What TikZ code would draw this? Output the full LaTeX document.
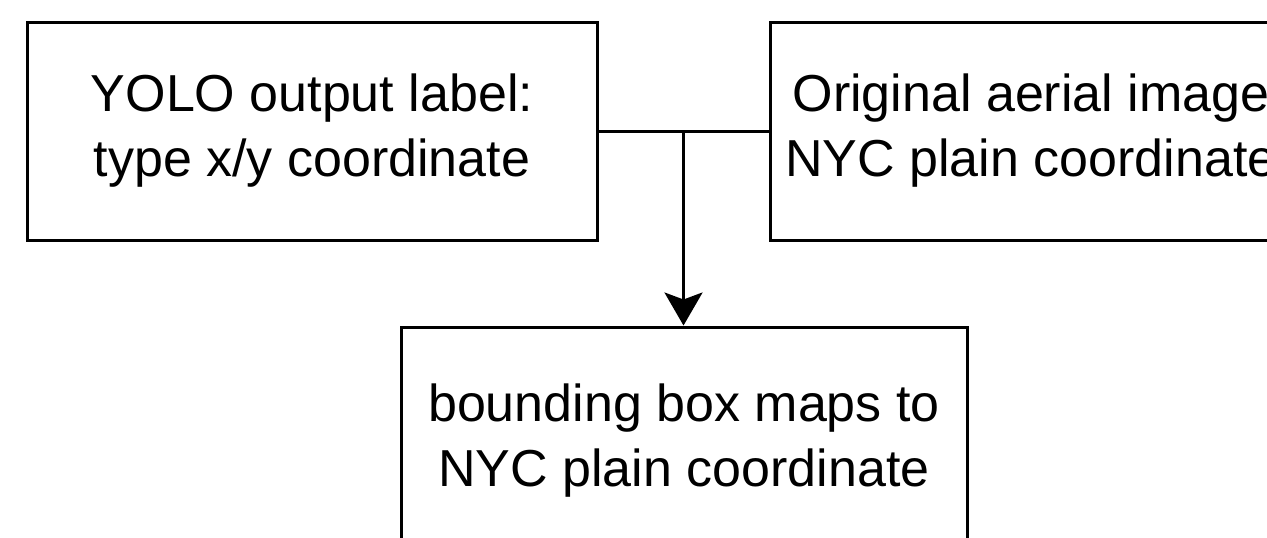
\documentclass[tikz,border=0pt]{standalone}
\usepackage{fontspec}
\setmainfont{Liberation Sans}
\usetikzlibrary{arrows.meta,calc}
\tikzset{
  box/.style={draw=black, line width=3pt, rectangle, inner sep=0pt, align=center,
    font=\fontsize{52}{65}\selectfont, fill=white},
  conn/.style={draw=black, line width=3pt},
  arr/.style={conn, -{Stealth[length=33pt, width=38pt, inset=7pt]}}
}
\begin{document}
\begin{tikzpicture}[x=1pt, y=-1pt]
\useasboundingbox (0,0) rectangle (1267,538);
\clip (0,0) rectangle (1267,538);
\node[box, minimum width=570pt, minimum height=218pt] (L) at (312,131)
  {YOLO output label:\\type x/y coordinate};
\node[box, minimum width=522pt, minimum height=218pt] (R) at (1031,131)
  {Original aerial image\\NYC plain coordinate};
\node[box, minimum width=566pt, minimum height=228pt] (B) at (684,441)
  {bounding box maps to\\NYC plain coordinate};
\coordinate (J) at ($(L.east)!0.5!(R.west)$);
\draw[conn] (L.east) -- (R.west);
\draw[arr] (J) -- (J |- B.north);
\end{tikzpicture}
\end{document}
